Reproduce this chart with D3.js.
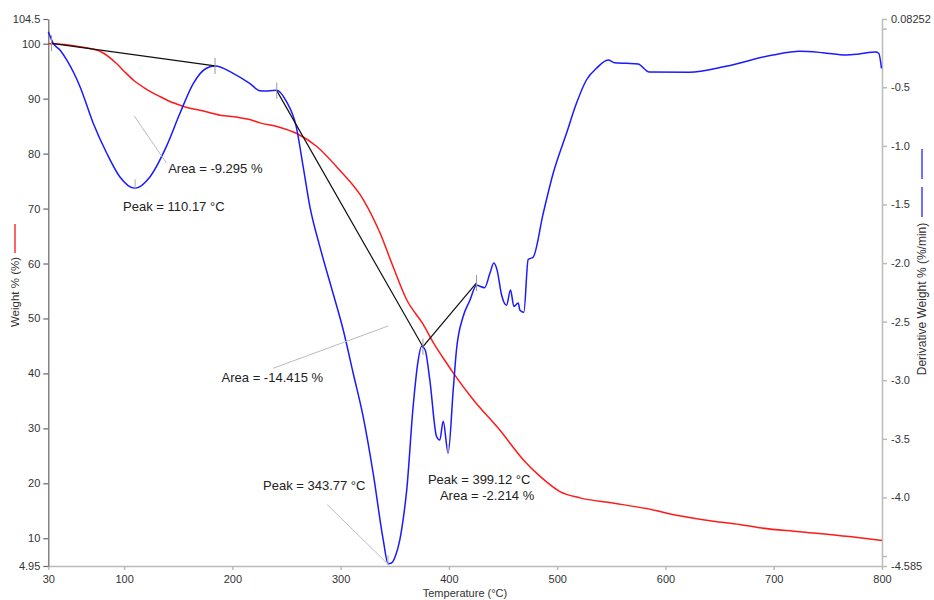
<!DOCTYPE html>
<html>
<head>
<meta charset="utf-8">
<script src="https://cdn.jsdelivr.net/npm/d3@7"></script>
<style>
  body { margin: 0; background: #fff; }
  svg { display: block; font-family: "Liberation Sans", Arial, sans-serif; }
</style>
</head>
<body>
<svg width="934" height="600"></svg>
<script>
// weight curve (left axis)
var weightTemp = [30, 34, 45, 59, 79, 93, 100, 108.5, 120, 133, 146, 158, 170, 188.5, 205, 216, 225.5, 242, 259, 278, 299, 321, 336.5, 348.5, 361, 376, 385.6, 397.8, 404, 422.5, 447, 468.6, 484, 502.5, 521, 551.5, 582.5, 613, 644, 668.6, 687, 724, 770, 800];
var weightVal = [100, 100, 99.85, 99.45, 98.5, 96.4, 95.0, 93.4, 91.8, 90.4, 89.2, 88.4, 87.9, 87.0, 86.6, 86.2, 85.6, 84.9, 83.7, 81.3, 77.0, 71.6, 65.5, 59.4, 53.4, 49.0, 45.6, 41.9, 40.1, 35.2, 29.7, 24.3, 21.3, 18.5, 17.35, 16.4, 15.4, 14.1, 13.1, 12.5, 11.9, 11.2, 10.3, 9.6];

// derivative curve (right axis)
var derivTemp = [30, 34.6, 40.8, 47, 59.3, 71.5, 84, 96, 110, 124, 139, 151.6, 164, 176, 184, 200.7, 216, 225.5, 233, 241, 250, 259, 265.4, 271.6, 280.8, 293, 302.4, 311.6, 320.8, 330, 339.3, 343.8, 347, 351, 354.7, 358, 361, 367, 371.6, 374.7, 378, 382.4, 388.6, 391.6, 394.7, 399.3, 404, 407, 413, 419.3, 425.5, 433, 437.8, 441.5, 444.5, 448.6, 453.2, 456.9, 460, 464, 465.5, 469.2, 473.2, 477.8, 487, 496.3, 508.6, 517.8, 527, 536.3, 547, 553, 564, 574.7, 585, 622, 656, 699, 724, 745.5, 767, 779, 794, 797, 799.5];
var derivVal = [-0.026, -0.125, -0.182, -0.267, -0.495, -0.807, -1.063, -1.263, -1.362, -1.263, -1.007, -0.722, -0.466, -0.338, -0.318, -0.381, -0.466, -0.529, -0.532, -0.525, -0.623, -0.836, -1.178, -1.519, -1.86, -2.258, -2.571, -2.94, -3.31, -3.79, -4.36, -4.565, -4.56, -4.49, -4.36, -4.17, -3.94, -3.22, -2.83, -2.71, -2.74, -3.0, -3.48, -3.51, -3.35, -3.62, -3.08, -2.74, -2.46, -2.32, -2.19, -2.21, -2.09, -2.0, -2.06, -2.27, -2.36, -2.23, -2.37, -2.34, -2.4, -2.42, -1.97, -1.95, -1.58, -1.234, -0.893, -0.637, -0.438, -0.338, -0.267, -0.29, -0.296, -0.302, -0.37, -0.372, -0.32, -0.225, -0.193, -0.205, -0.225, -0.216, -0.199, -0.21, -0.338];

// integration baselines (derivative units)
var base1Temp = [33, 184];
var base1Val = [-0.125, -0.318];
var base2Temp = [241, 376, 425.5];
var base2Val = [-0.529, -2.714, -2.17];

var xTicks = [30, 100, 200, 300, 400, 500, 600, 700, 800];
var leftTicks = [104.5, 100, 90, 80, 70, 60, 50, 40, 30, 20, 10, 4.95];
var rightTicks = [0.08252, 0, -0.5, -1.0, -1.5, -2.0, -2.5, -3.0, -3.5, -4.0, -4.5, -4.585];
var rightTickLabels = ["0.08252", "", "-0.5", "-1.0", "-1.5", "-2.0", "-2.5", "-3.0", "-3.5", "-4.0", "", "-4.585"];

var peakTemps = [110.17, 343.77, 399.12];
var peakVals = [-1.362, -4.57, -3.62];
var peakLabels = ["Peak = 110.17 °C", "Peak = 343.77 °C", "Peak = 399.12 °C"];
var areaLabels = ["Area = -9.295 %", "Area = -14.415 %", "Area = -2.214 %"];

var svg = d3.select("svg");

var x = d3.scaleLinear([30, 800], [48.3, 882]);
var yL = d3.scaleLinear([4.95, 104.5], [566, 19]);
var yR = d3.scaleLinear([-4.585, 0.08252], [566, 19]);

// Axes
var bottomAxis = svg.append("g")
    .attr("transform", "translate(0, 566)")
    .call(d3.axisBottom(x).tickValues(xTicks).tickSize(4).tickSizeOuter(0).tickPadding(5).tickFormat(function(d) { return d; }));
bottomAxis.selectAll("path, line").attr("stroke", "#bbb").attr("stroke-width", 1.5);

var leftAxis = svg.append("g")
    .attr("transform", "translate(48.3, 0)")
    .call(d3.axisLeft(yL).tickValues(leftTicks).tickSize(5).tickSizeOuter(0).tickPadding(3).tickFormat(function(d) { return d; }));
leftAxis.selectAll("path, line").attr("stroke", "#666").attr("stroke-width", 1.2);

var rightAxis = svg.append("g")
    .attr("transform", "translate(882, 0)")
    .call(d3.axisRight(yR).tickValues(rightTicks).tickSize(5).tickSizeOuter(0).tickPadding(4).tickFormat(function(d, i) { return rightTickLabels[i]; }));
rightAxis.selectAll("path, line").attr("stroke", "#bbb").attr("stroke-width", 1.5);

svg.selectAll(".tick text").attr("font-size", 11).attr("fill", "#333")
    .attr("font-family", "'Liberation Sans', Arial, sans-serif");

// Axis titles
svg.append("text")
    .attr("transform", "translate(19, 292) rotate(-90)")
    .attr("text-anchor", "middle")
    .attr("font-size", 11.5).attr("fill", "#333")
    .text("Weight % (%)");
svg.append("line")
    .attr("x1", 15).attr("x2", 15).attr("y1", 224).attr("y2", 253)
    .attr("stroke", "#ff3030").attr("stroke-width", 1.5);

svg.append("text")
    .attr("transform", "translate(926, 299) rotate(-90)")
    .attr("text-anchor", "middle")
    .attr("font-size", 12).attr("fill", "#333")
    .text("Derivative Weight % (%/min)");
svg.append("line")
    .attr("x1", 922).attr("x2", 922).attr("y1", 149).attr("y2", 179)
    .attr("stroke", "#4040ff").attr("stroke-width", 1.5);
svg.append("line")
    .attr("x1", 922).attr("x2", 922).attr("y1", 187).attr("y2", 217)
    .attr("stroke", "#4040ff").attr("stroke-width", 1.5);

svg.append("text")
    .attr("x", 465).attr("y", 597)
    .attr("text-anchor", "middle")
    .attr("font-size", 11).attr("fill", "#333")
    .text("Temperature (°C)");

// Curves
var weightLine = d3.line()
    .x(function(d, i) { return x(weightTemp[i]); })
    .y(function(d) { return yL(d); })
    .curve(d3.curveMonotoneX);
svg.append("path")
    .attr("d", weightLine(weightVal))
    .attr("fill", "none").attr("stroke", "#ff1a1a").attr("stroke-width", 1.5);

var derivLine = d3.line()
    .x(function(d, i) { return x(derivTemp[i]); })
    .y(function(d) { return yR(d); })
    .curve(d3.curveMonotoneX);
svg.append("path")
    .attr("d", derivLine(derivVal))
    .attr("fill", "none").attr("stroke", "#1a1aff").attr("stroke-width", 1.5);

// Baselines with end ticks
function drawBaseline(temps, vals) {
    var pts = temps.map(function(t, i) { return [x(t), yR(vals[i])]; });
    svg.append("path")
        .attr("d", d3.line()(pts))
        .attr("fill", "none").attr("stroke", "#111").attr("stroke-width", 1.2);
    svg.selectAll(null)
        .data(pts)
        .enter()
        .append("line")
        .attr("x1", function(d) { return d[0]; })
        .attr("x2", function(d) { return d[0]; })
        .attr("y1", function(d) { return d[1] - 8; })
        .attr("y2", function(d) { return d[1] + 8; })
        .attr("stroke", "#999").attr("stroke-width", 1);
}
drawBaseline(base1Temp, base1Val);
drawBaseline(base2Temp, base2Val);

// Annotations
function label(px, py, txt) {
    svg.append("text")
        .attr("x", px).attr("y", py)
        .attr("font-size", 13).attr("fill", "#222")
        .text(txt);
}
function leader(x1, y1, x2, y2) {
    svg.append("line")
        .attr("x1", x1).attr("y1", y1).attr("x2", x2).attr("y2", y2)
        .attr("stroke", "#bbb").attr("stroke-width", 1);
}

// peak ticks
peakTemps.forEach(function(t, i) {
    svg.append("line")
        .attr("x1", x(t)).attr("x2", x(t))
        .attr("y1", yR(peakVals[i]) - 9).attr("y2", yR(peakVals[i]) + 1)
        .attr("stroke", "#aaa").attr("stroke-width", 1);
});

// first event
leader(x(109.4), yR(-0.745), x(139.3), yR(-1.149));
label(x(139.3) + 1.5, yR(-1.149) + 10, areaLabels[0]);
label(x(peakTemps[0]) - 12, yR(peakVals[0]) + 23, peakLabels[0]);

// second event
leader(x(343.9), yR(-2.537), x(237.7), yR(-2.898));
label(x(237.7) - 51.6, yR(-2.898) + 14, areaLabels[1]);
leader(x(287.7), yR(-4.062), x(peakTemps[1]), yR(peakVals[1]));
label(x(peakTemps[1]) - 125, yR(peakVals[1]) - 74, peakLabels[1]);

// third event
label(x(peakTemps[2]) - 20, yR(peakVals[2]) + 31, peakLabels[2]);
label(x(peakTemps[2]) - 8, yR(peakVals[2]) + 47, areaLabels[2]);
</script>
</body>
</html>
